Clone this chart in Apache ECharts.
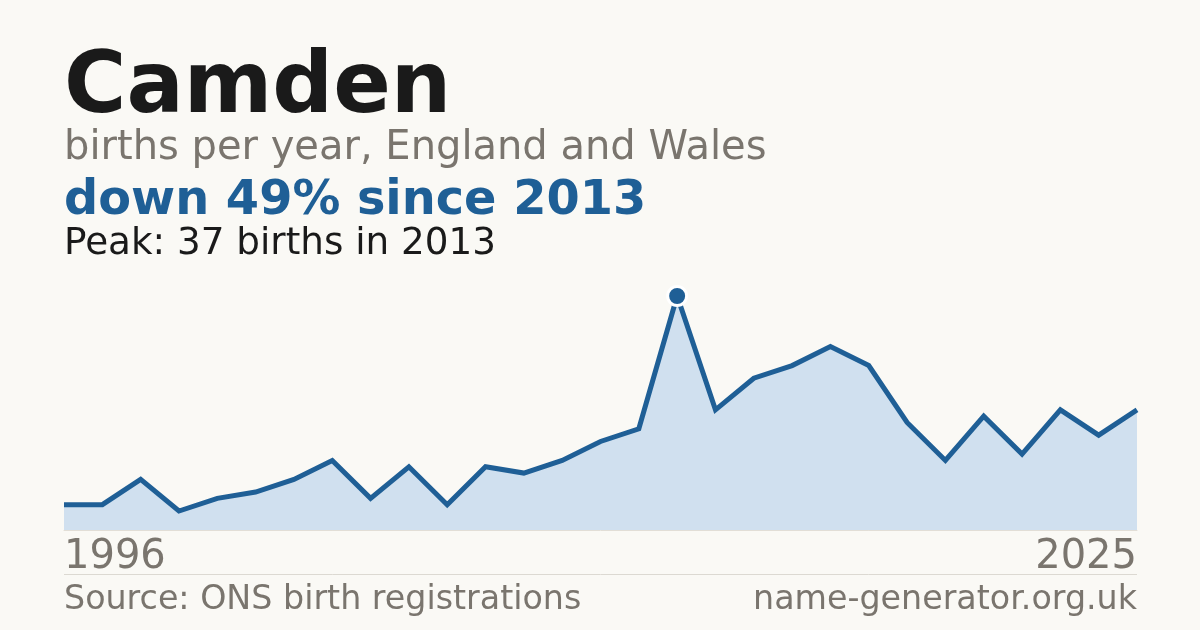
<!DOCTYPE html>
<html>
<head>
<meta charset="utf-8">
<script src="https://cdn.jsdelivr.net/npm/echarts@6/dist/echarts.min.js"></script>
<style>
  html, body { margin: 0; padding: 0; background: #faf9f5; }
  #chart { width: 1200px; height: 630px; }
</style>
</head>
<body>
<div id="chart"></div>
<script>
// Data (one suppressed year is absent, so 29 yearly values)
const years = [1996, 1997, 1999, 2000, 2001, 2002, 2003, 2004, 2005, 2006, 2007, 2008, 2009, 2010, 2011, 2012, 2013, 2014, 2015, 2016, 2017, 2018, 2019, 2020, 2021, 2022, 2023, 2024, 2025];
const births = [4, 4, 8, 3, 5, 6, 8, 11, 5, 10, 4, 10, 9, 11, 14, 16, 37, 19, 24, 26, 29, 26, 17, 11, 18, 12, 19, 15, 19];
const peakYear = 2013;
const titleText = 'Camden';
const subtitleText = 'births per year, England and Wales';
const changeText = 'down 49% since 2013';
const peakText = 'Peak: 37 births in 2013';
const sourceText = 'Source: ONS birth registrations';
const siteText = 'name-generator.org.uk';

const FONT = '"DejaVu Sans", sans-serif';
const peakIdx = years.indexOf(peakYear);
const seriesData = births.map((v, i) => i === peakIdx
  ? { value: v, symbol: 'circle', symbolSize: 19, itemStyle: { color: '#1f5f96', borderColor: '#ffffff', borderWidth: 3 } }
  : { value: v, symbol: 'none' });

const chart = echarts.init(document.getElementById('chart'), null, { renderer: 'canvas' });
chart.setOption({
  backgroundColor: '#faf9f5',
  animation: false,
  grid: { left: 64, right: 63, top: 296, bottom: 100, containLabel: false },
  xAxis: {
    type: 'category',
    data: years.map(String),
    boundaryGap: false,
    axisLine: { show: true, lineStyle: { color: '#e2ded6', width: 1 } },
    axisTick: { show: false },
    splitLine: { show: false },
    axisLabel: {
      interval: (idx) => idx === 0 || idx === years.length - 1,
      color: '#7a756e',
      fontFamily: FONT,
      fontSize: 40,
      margin: 8,
      alignMinLabel: 'left',
      alignMaxLabel: 'right'
    }
  },
  yAxis: {
    type: 'value',
    min: 0,
    max: 'dataMax',
    show: false,
    splitLine: { show: false }
  },
  series: [{
    type: 'line',
    data: seriesData,
    clip: false,
    showSymbol: true,
    lineStyle: { color: '#1f5f96', width: 5, join: 'miter' },
    areaStyle: { color: '#d0e0ef', opacity: 1 },
    emphasis: { disabled: true },
    z: 3
  }],
  graphic: [
    { type: 'text', x: 64, y: 90, style: { text: titleText, font: 'bold 85px ' + FONT, fill: '#1a1a1a', verticalAlign: 'middle' } },
    { type: 'text', x: 64, y: 149, style: { text: subtitleText, font: '40px ' + FONT, fill: '#7a756e', verticalAlign: 'middle' } },
    { type: 'text', x: 64, y: 201.5, style: { text: changeText, font: 'bold 47.8px ' + FONT, fill: '#1f5f96', verticalAlign: 'middle' } },
    { type: 'text', x: 64, y: 244, style: { text: peakText, font: '37.3px ' + FONT, fill: '#1a1a1a', verticalAlign: 'middle' } },
    { type: 'line', shape: { x1: 64, y1: 574.5, x2: 1137, y2: 574.5 }, style: { stroke: '#dcd9d2', lineWidth: 1 } },
    { type: 'text', x: 64, y: 600, style: { text: sourceText, font: '33.3px ' + FONT, fill: '#7a756e', verticalAlign: 'middle' } },
    { type: 'text', x: 1137, y: 600, style: { text: siteText, font: '33.3px ' + FONT, fill: '#7a756e', align: 'right', verticalAlign: 'middle' } }
  ]
});
</script>
</body>
</html>
